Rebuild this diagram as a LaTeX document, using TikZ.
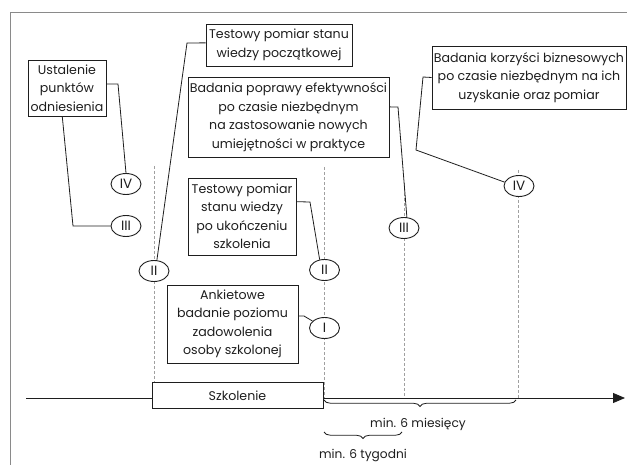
\documentclass[tikz,border=0pt]{standalone}
\usepackage{fontspec}
\setmainfont{Poppins}
\usetikzlibrary{calc,shapes.geometric,arrows.meta,decorations.pathreplacing}
\definecolor{ink}{HTML}{1E1E1E}
\definecolor{framegray}{HTML}{8A8A8A}
\definecolor{dashgray}{HTML}{A0A0A0}
\tikzset{
  boxnode/.style={draw=ink, line width=0.9pt, align=center, inner sep=1pt, text=ink,
    font=\fontsize{12.6}{18.5}\selectfont},
  romannode/.style={ellipse, draw=ink, line width=0.9pt, fill=white, minimum width=30pt,
    minimum height=21pt, inner sep=0pt, text=ink, font=\fontsize{13.5}{15}\selectfont},
  conn/.style={draw=ink, line width=0.8pt},
  guide/.style={draw=dashgray, line width=0.6pt, dash pattern=on 3pt off 2pt},
  lbl/.style={text=ink, font=\fontsize{12.2}{14}\selectfont, inner sep=0pt},
  bracestyle/.style={draw=ink, line width=0.8pt, decorate, decoration={brace, amplitude=6.5pt}}
}
\begin{document}
\begin{tikzpicture}[x=1pt,y=-1pt]
\useasboundingbox (0,0) rectangle (627,465);
% frame
\draw[framegray, line width=1pt] (10,465) -- (10,13) -- (627,13);

% boxes
\node[boxnode, minimum width=78, minimum height=56] (ust) at (67,88) {Ustalenie\\punktów\\odniesienia};
\node[boxnode, minimum width=146, minimum height=42] (pocz) at (279,45) {Testowy pomiar stanu\\wiedzy początkowej};
\node[boxnode, minimum width=201, minimum height=80] (popr) at (288.5,117) {Badania poprawy efektywności\\po czasie niezbędnym\\na zastosowanie nowych\\umiejętności w praktyce};
\node[boxnode, minimum width=194, minimum height=63] (korz) at (529,77.5) {Badania korzyści biznesowych\\po czasie niezbędnym na ich\\uzyskanie oraz pomiar};
\node[boxnode, minimum width=108, minimum height=77] (ukon) at (242,216.5) {Testowy pomiar\\stanu wiedzy\\po ukończeniu\\szkolenia};
\node[boxnode, minimum width=131, minimum height=78] (ank) at (232.5,324) {Ankietowe\\badanie poziomu\\zadowolenia\\osoby szkolonej};
\node[boxnode, minimum width=171, minimum height=26] (szk) at (237.5,395.5) {Szkolenie};

% guide coordinates
\coordinate (g1t) at (154,166);
\coordinate (g2t) at (324.5,167);
\coordinate (g2b) at (324.5,398);
\coordinate (g3t) at (404,183);
\coordinate (g3b) at (404,398);
\coordinate (g4t) at (518,170);
\coordinate (g4b) at (518,398);
\draw[guide] (g1t) -- (g1t |- szk.north);
\draw[guide] (g2t) -- (g2b);
\draw[guide] (g3t) -- (g3b);
\draw[guide] (g4t) -- (g4b);

% timeline
\coordinate (tl0) at (26,398);
\coordinate (tl1) at (152,398);
\coordinate (tl2) at (323,398);
\coordinate (tl3) at (625,398);
\draw[conn] (tl0) -- (tl1);
\draw[conn, -{Triangle[length=12pt,width=10pt]}] (tl2) -- (tl3);

% roman markers
\node[romannode] (IVl) at (126,184) {IV};
\node[romannode] (IIIl) at (126,226) {III};
\node[romannode] (IIl) at (154,271) {II};
\node[romannode] (IIr) at (324.5,270) {II};
\node[romannode] (Ir) at (324.5,328) {I};
\node[romannode] (IIIr) at (404,228) {III};
\node[romannode] (IVr) at (519,186) {IV};

% connectors
\coordinate (b1) at (118,84);
\draw[conn] ($(ust.north east)!0.43!(ust.south east)$) -- (b1) -- (IVl.north);
\coordinate (b2) at (73,226);
\draw[conn] ($(ust.south west)!0.44!(ust.south east)$) -- (b2) -- (IIIl.west);
\coordinate (b3) at (187,43);
\draw[conn] ($(pocz.north west)!0.45!(pocz.south west)$) -- (b3) -- (IIl.75);
\coordinate (b4) at (398,107);
\draw[conn] ($(popr.north east)!0.375!(popr.south east)$) -- (b4) -- (IIIr.75);
\coordinate (b5) at (423,77);
\coordinate (b6) at (416,150);
\draw[conn] (korz.west) -- (b5) -- (b6) -- (IVr.165);
\coordinate (b7) at (310,202);
\draw[conn] ($(ukon.north east)!0.31!(ukon.south east)$) -- (b7) -- (IIr.115);
\coordinate (b8) at (304,316);
\draw[conn] ($(ank.north east)!0.4!(ank.south east)$) -- (b8) -- (Ir.150);

% braces
\coordinate (m1) at (324,400);
\coordinate (m2) at (516,400);
\draw[bracestyle] (m2) -- (m1);
\coordinate (t1) at (324,432);
\coordinate (t2) at (402,432);
\draw[bracestyle] (t2) -- (t1);
\node[lbl] (l6m) at (418,424) {min. 6 miesięcy};
\node[lbl] (l6t) at (363,456) {min. 6 tygodni};
\end{tikzpicture}
\end{document}
